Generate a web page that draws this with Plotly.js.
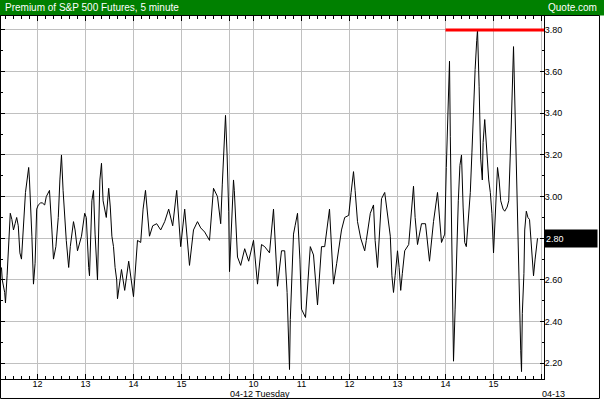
<!DOCTYPE html>
<html>
<head>
<meta charset="utf-8">
<script src="https://cdn.plot.ly/plotly-3.0.1.min.js"></script>
<style>
html,body{margin:0;padding:0;background:#fff;}
#chart{width:604px;height:405px;}
</style>
</head>
<body>
<div id="chart"></div>
<script>
// Elapsed trading minutes since Mon 04-11 11:15 (16:00 Mon joins 09:30 Tue at minute 285)
var elapsedMin = [
  0,1,4,5,7,9,11,13,15,17,
  19,21,23,25,27,30,34,35,38,40,
  42,44,46,49,51,54,56,60,63,65,
  68,71,73,75,77,79,81,84,86,90,
  92,95,98,100,104,106,109,110,113,115,
  117,119,120,123,125,127,131,134,136,138,
  140,142,144,145,150,154,159,165,170,174,
  177,180,185,189,194,199,204,209,214,219,
  224,229,235,240,245,249,254,260,265,270,
  274,276,280,282,284,285,286,288,290,291,
  293,295,299,304,309,315,320,325,329,335,
  340,345,350,354,357,358,360,361,365,367,
  370,373,375,380,386,390,395,400,404,410,
  415,419,421,425,429,434,437,440,442,445,
  449,454,456,461,465,467,470,472,475,479,
  486,488,490,492,495,497,499,501,504,509,
  515,517,520,525,530,535,540,545,547,549,
  550,552,554,556,559,560,561,563,564,565,
  567,569,571,573,575,577,579,581,582,584,
  586,588,590,592,594,595,597,599,601,602,
  604,606,609,611,613,615,617,619,620,622,
  624,627,629,632,634,637,639,640,641,643,
  645,647,649,650,651,653,654,656,658,660,
  662,664,665,667,669,670
];
var premium = [
  2.66,2.60,2.54,2.49,2.62,2.76,2.92,2.89,2.84,2.87,
  2.90,2.86,2.73,2.70,2.81,3.02,3.14,3.08,2.81,2.58,
  2.68,2.94,2.96,2.97,2.97,2.96,3.00,3.03,2.84,2.70,
  2.76,2.90,3.08,3.20,3.03,2.90,2.79,2.66,2.76,2.88,
  2.84,2.74,2.78,2.81,2.92,2.90,2.66,2.62,2.98,3.03,
  2.82,2.66,2.60,3.08,3.16,2.98,2.90,3.04,2.95,2.81,
  2.76,2.66,2.60,2.51,2.65,2.55,2.69,2.52,2.79,2.78,
  2.94,3.03,2.81,2.86,2.87,2.84,2.88,2.94,2.86,3.03,
  2.76,2.94,2.67,2.84,2.88,2.85,2.83,2.79,3.04,3.00,
  2.87,3.06,3.39,3.20,2.93,2.64,2.74,2.90,3.08,3.03,
  2.86,2.71,2.67,2.75,2.69,2.79,2.58,2.77,2.76,2.73,
  2.94,2.57,2.74,2.74,2.54,2.41,2.17,2.41,2.82,2.86,
  2.92,2.70,2.46,2.42,2.76,2.72,2.48,2.76,2.76,2.94,
  2.58,2.68,2.73,2.84,2.90,2.91,3.02,3.12,3.03,2.88,
  2.80,2.74,2.79,2.92,2.96,2.79,2.66,2.78,2.99,3.02,
  2.81,2.62,2.54,2.62,2.74,2.66,2.55,2.63,2.74,2.77,
  3.05,2.90,2.77,2.87,2.87,2.69,2.88,3.02,2.92,2.82,
  2.78,2.80,2.82,3.14,3.54,3.65,3.29,2.76,2.39,2.21,
  2.46,2.78,2.98,3.15,3.20,2.95,2.78,2.76,2.82,2.92,
  3.02,3.21,3.45,3.61,3.75,3.80,3.53,3.18,3.08,3.26,
  3.37,3.24,3.08,3.02,2.92,2.73,2.89,3.10,3.14,3.08,
  2.98,2.94,2.93,2.95,2.98,3.32,3.62,3.72,3.56,3.21,
  2.82,2.57,2.26,2.16,2.44,2.63,2.84,2.93,2.90,2.89,
  2.76,2.65,2.62,2.70,2.79,2.80
];

var hourTickMinutes = [45,105,165,225,285,315,375,435,495,555,615,675];
var hourTickLabels  = ["12","13","14","15","","10","11","12","13","14","15",""];
var dayLabelMinutes = [285, 675];
var dayLabels       = ["04-12 Tuesday", "04-13"];

var chartTitle = "Premium of S&P 500 Futures, 5 minute";
var sourceLabel = "Quote.com";
var highLevel = 3.80;
var highStartMin = 555;
var lastValue = premium[premium.length - 1];

var xRange = [-0.6, 678.1];
var yRange = [2.1246, 3.867];

var FONT = "Liberation Sans, Arial, sans-serif";

var trace = {
  x: elapsedMin, y: premium, type: "scatter", mode: "lines",
  line: {color: "#000000", width: 1}, hoverinfo: "skip"
};

var annotations = [
  {xref:"paper", yref:"paper", x:0.0037, y:1.0234, xanchor:"left", yanchor:"middle",
   text: chartTitle, showarrow:false, font:{family:FONT, size:10, color:"#ffffff"}},
  {xref:"paper", yref:"paper", x:1.1013, y:1.0234, xanchor:"right", yanchor:"middle",
   text: sourceLabel, showarrow:false, font:{family:FONT, size:10, color:"#ffffff"}},
  {xref:"paper", yref:"y", x:1.0, y:lastValue, xanchor:"left", yanchor:"middle",
   text: lastValue.toFixed(2), showarrow:false, bgcolor:"#000000", width:50, height:15,
   align:"left", borderpad:1, font:{family:FONT, size:9, color:"#ffffff"}}
];
for (var i = 0; i < dayLabels.length; i++) {
  annotations.push({xref:"x", yref:"paper", x:dayLabelMinutes[i], y:-0.0413,
    xanchor:"left", yanchor:"middle", xshift:-2, text: dayLabels[i], showarrow:false,
    font:{family:FONT, size:9, color:"#000000"}});
}

var layout = {
  width: 604, height: 405,
  margin: {l:1, r:60, t:16, b:26, pad:0},
  paper_bgcolor: "#ffffff", plot_bgcolor: "#ffffff",
  showlegend: false,
  xaxis: {
    range: xRange, tickmode: "array", tickvals: hourTickMinutes, ticktext: hourTickLabels,
    ticks: "inside", ticklen: 5, tickcolor: "#000000", tickwidth: 1,
    showline: true, linecolor: "#000000", linewidth: 1, mirror: "allticks",
    showgrid: true, gridcolor: "#c0c0c0", gridwidth: 1, zeroline: false,
    tickfont: {family: FONT, size: 9, color: "#000000"}, ticklabelstandoff: -4,
    minor: {dtick: 10, tick0: 5, ticks: "inside", ticklen: 3, tickcolor: "#000000", showgrid: false},
    fixedrange: true
  },
  yaxis: {
    side: "right", range: yRange, tick0: 2.2, dtick: 0.2, tickformat: ".2f",
    ticks: "inside", ticklen: 4, tickcolor: "#000000",
    showline: true, linecolor: "#000000", linewidth: 1, mirror: "allticks",
    showgrid: true, gridcolor: "#c0c0c0", gridwidth: 1, zeroline: false,
    tickfont: {family: FONT, size: 9, color: "#000000"}, ticklabelstandoff: -2,
    minor: {dtick: 0.1, tick0: 2.2, ticks: "inside", ticklen: 2, tickcolor: "#000000", showgrid: false},
    fixedrange: true
  },
  shapes: [
    {type:"rect", xref:"paper", yref:"paper", x0:-0.01, x1:1.1105, y0:1.0014, y1:1.0441,
     fillcolor:"#008000", line:{width:0}, layer:"above"},
    {type:"rect", xref:"paper", yref:"paper", x0:-0.0009, x1:1.1022, y0:-0.0537, y1:1.0014,
     fillcolor:"rgba(0,0,0,0)", line:{color:"#000000", width:1}, layer:"above"},
    {type:"line", xref:"x", yref:"y", x0:highStartMin, x1:xRange[1], y0:highLevel, y1:highLevel,
     line:{color:"#ff0000", width:3}, layer:"above"}
  ],
  annotations: annotations
};

Plotly.newPlot("chart", [trace], layout, {displayModeBar:false, staticPlot:true});
</script>
</body>
</html>
